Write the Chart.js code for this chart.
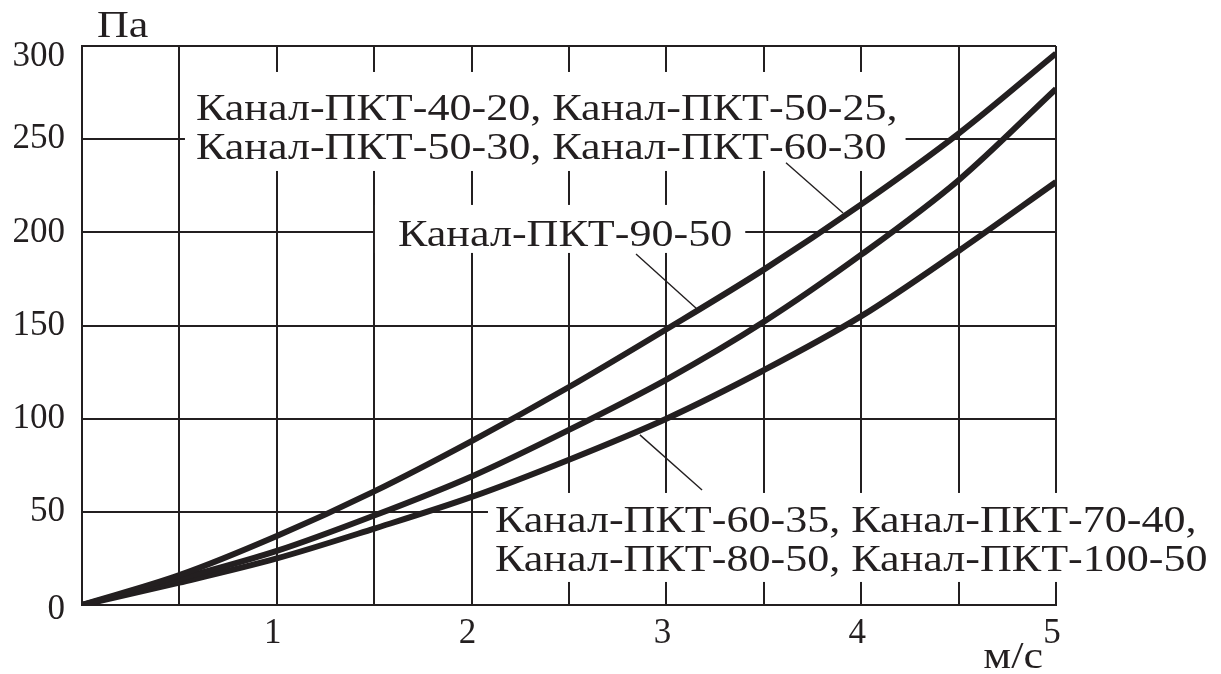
<!DOCTYPE html>
<html>
<head>
<meta charset="utf-8">
<script src="https://cdn.jsdelivr.net/npm/chart.js@4.4.0/dist/chart.umd.min.js"></script>
<style>
  html, body { margin: 0; padding: 0; background: #fff; }
</style>
</head>
<body>
<canvas id="chartCanvas" width="1221" height="674"></canvas>
<script>
// скорость воздуха, м/с
const speeds = [0, 0.5, 1, 1.5, 2, 2.5, 3, 3.5, 4, 4.5, 5];
// потери давления, Па
const lossTop = [0, 16, 37, 61, 88, 117, 148, 180, 215, 253, 296];
const lossMid = [0, 14, 29, 48, 69, 94, 121, 152, 188, 228, 277];
const lossLow = [0, 12, 25, 41, 58, 78, 100, 126, 155, 190, 227];

const xTickLabels = ['1', '2', '3', '4', '5'];
const yTickLabels = ['0', '50', '100', '150', '200', '250', '300'];

const labelA = ['Канал-ПКТ-40-20, Канал-ПКТ-50-25,', 'Канал-ПКТ-50-30, Канал-ПКТ-60-30'];
const labelB = ['Канал-ПКТ-90-50'];
const labelC = ['Канал-ПКТ-60-35, Канал-ПКТ-70-40,', 'Канал-ПКТ-80-50, Канал-ПКТ-100-50'];

const ink = '#231f20';
const serif = '"Liberation Serif", "DejaVu Serif", serif';
const stretch = 1.16; // в оригинале шрифт шире, чем Liberation Serif

// подписи: точка текста и выноска в единицах осей, поля в пикселях [слева, справа, сверху, снизу]
const callouts = [
  { lines: labelA, at: [0.585, 260.3], pad: [11, 8, 48, 12], from: [3.614, 237.3], to: [3.907, 210.4] },
  { lines: labelB, at: [1.622, 192.7], pad: [23, 13, 41, 7], from: [2.844, 188.4], to: [3.157, 158.9] },
  { lines: labelC, at: [2.12, 39.2], pad: [7, 15, 39, 11], from: [2.864, 91.3], to: [3.183, 61.7] }
];

function pts(ys) {
  return speeds.map((x, i) => ({ x: x, y: ys[i] }));
}

function wideText(c, t, x, y) {
  c.save();
  c.translate(x, y);
  c.scale(stretch, 1);
  c.fillText(t, 0, 0);
  c.restore();
}

const notesPlugin = {
  id: 'notes',
  beforeDatasetsDraw(chart) {
    const c = chart.ctx, xs = chart.scales.x, ys = chart.scales.y;
    c.save();
    c.font = '38px ' + serif;
    c.textBaseline = 'alphabetic';
    callouts.forEach(n => {
      const x0 = xs.getPixelForValue(n.at[0]);
      const y0 = ys.getPixelForValue(n.at[1]);
      const lh = 39;
      const w = stretch * Math.max(...n.lines.map(t => c.measureText(t).width));
      c.fillStyle = '#fff';
      c.fillRect(x0 - n.pad[0], y0 - n.pad[2], w + n.pad[0] + n.pad[1],
        n.pad[2] + lh * (n.lines.length - 1) + n.pad[3]);
      c.fillStyle = ink;
      n.lines.forEach((t, i) => wideText(c, t, x0, y0 + i * lh));
      c.strokeStyle = ink;
      c.lineWidth = 1.4;
      c.beginPath();
      c.moveTo(xs.getPixelForValue(n.from[0]), ys.getPixelForValue(n.from[1]));
      c.lineTo(xs.getPixelForValue(n.to[0]), ys.getPixelForValue(n.to[1]));
      c.stroke();
    });
    c.restore();
  },
  afterDraw(chart) {
    const c = chart.ctx, xs = chart.scales.x, ys = chart.scales.y, a = chart.chartArea;
    c.save();
    c.fillStyle = ink;
    c.font = '35px ' + serif;
    c.textAlign = 'right';
    c.textBaseline = 'middle';
    yTickLabels.forEach(t => {
      const v = Number(t);
      let y = ys.getPixelForValue(v);
      if (v === ys.max) y += 11;
      if (v === ys.min) y += 5;
      c.fillText(t, a.left - 17, y);
    });
    c.textAlign = 'center';
    c.textBaseline = 'alphabetic';
    xTickLabels.forEach(t => {
      c.fillText(t, xs.getPixelForValue(Number(t)) - 4, a.bottom + 38);
    });
    c.font = '38px ' + serif;
    c.textAlign = 'left';
    wideText(c, 'Па', a.left + 15, a.top - 9);
    c.textAlign = 'right';
    wideText(c, 'м/с', a.right - 13, a.bottom + 63);
    c.restore();
  }
};

const gridStyle = { color: ink, lineWidth: 2, drawTicks: false };

const ctx = document.getElementById('chartCanvas').getContext('2d');
new Chart(ctx, {
  type: 'line',
  data: {
    datasets: [lossTop, lossMid, lossLow].map(ys => ({
      data: pts(ys),
      borderColor: ink,
      borderWidth: 6,
      pointRadius: 0,
      cubicInterpolationMode: 'monotone',
      fill: false
    }))
  },
  options: {
    responsive: false,
    animation: false,
    devicePixelRatio: 1,
    layout: { padding: { left: 82, right: 165, top: 46, bottom: 69 } },
    plugins: { legend: { display: false }, tooltip: { enabled: false } },
    scales: {
      x: {
        type: 'linear', min: 0, max: 5,
        ticks: { stepSize: 0.5, display: false },
        grid: gridStyle,
        border: { color: ink, width: 2 }
      },
      y: {
        type: 'linear', min: 0, max: 300,
        ticks: { stepSize: 50, display: false },
        grid: gridStyle,
        border: { color: ink, width: 2 }
      }
    }
  },
  plugins: [notesPlugin]
});
</script>
</body>
</html>
